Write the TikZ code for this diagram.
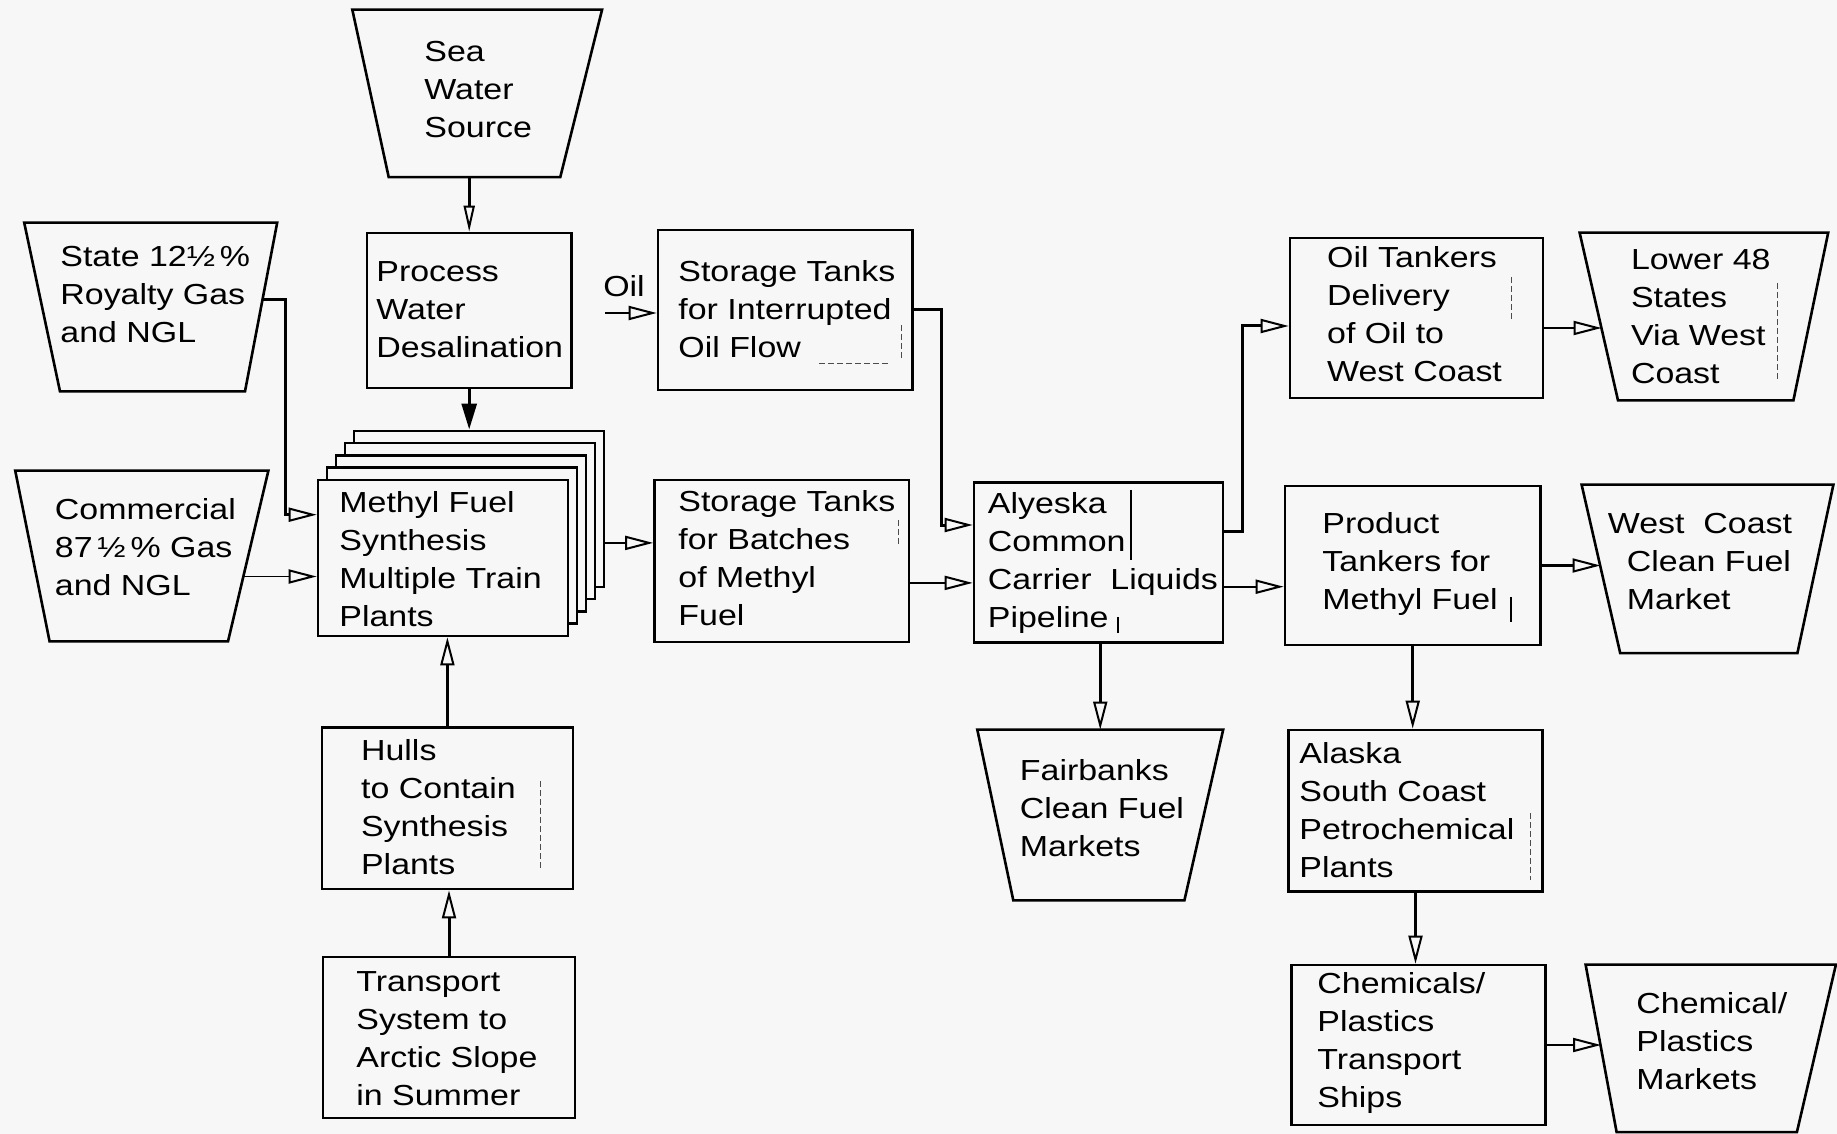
\documentclass[tikz,border=0pt]{standalone}
\usepackage{fontspec}
\setmainfont{Liberation Sans}[FakeStretch=1.17]
\usetikzlibrary{arrows.meta}
\newcommand{\lns}[1]{\begin{tabular}[t]{@{}l@{}}#1\end{tabular}}
\newcommand{\trapz}[3]{\draw[line width=1.3pt, line join=miter] (#1.north west) -- (#1.north east) -- ([xshift=-#3]#1.south east) -- ([xshift=#2]#1.south west) -- cycle;}
\definecolor{bgc}{gray}{0.97}
\begin{document}
\begin{tikzpicture}[x=0.5pt,y=-0.5pt,
  bx/.style={draw, line width=1.3pt, rectangle, inner sep=0pt},
  tb/.style={rectangle, inner sep=0pt},
  tx/.style={anchor=base west, inner sep=0pt, font=\fontsize{14.5}{19}\selectfont},
  thk/.style={line width=1.5pt},
  thn/.style={line width=0.9pt},
  med/.style={line width=1.1pt},
  oa/.style={-{Triangle[open, length=14pt, width=7pt, line width=1pt]}},
  fa/.style={-{Triangle[length=13pt, width=7.5pt]}},
  gd/.style={line width=0.5pt, black!70, dash pattern=on 3pt off 1.5pt}]
\useasboundingbox (0,0) rectangle (1837,1134);
\fill[bgc] (0,0) rectangle (1837,1134);

% trapezoids (sources and markets): bounding nodes + outlines
\node[tb, minimum width=124.5pt, minimum height=83.35pt] (sea) at (477.2,93.35) {};
\node[tb, minimum width=126.1pt, minimum height=84pt] (state) at (150.7,307) {};
\node[tb, minimum width=126.2pt, minimum height=85pt] (comm) at (141.8,556) {};
\node[tb, minimum width=123.9pt, minimum height=83.5pt] (lw) at (1703.9,316.5) {};
\node[tb, minimum width=125.5pt, minimum height=83.85pt] (wc) at (1707.5,568.85) {};
\node[tb, minimum width=122.55pt, minimum height=85pt] (fair) at (1100.25,815) {};
\node[tb, minimum width=124.75pt, minimum height=83.35pt] (cm) at (1710.75,1048.35) {};
\trapz{sea}{18.2pt}{20.9pt}
\trapz{state}{17.9pt}{16.1pt}
\trapz{comm}{17.2pt}{20.2pt}
\trapz{lw}{19.2pt}{17.4pt}
\trapz{wc}{19.3pt}{18pt}
\trapz{fair}{18pt}{19.4pt}
\trapz{cm}{15.5pt}{19.5pt}

% rectangular boxes
\node[bx, minimum width=102.2pt, minimum height=77.5pt] (proc) at (469.2,310.5) {};
\node[bx, minimum width=127.3pt, minimum height=80pt] (so) at (785.3,310) {};
\foreach \k/\nm in {4/m4,3/m3,2/m2,1/m1}
  \node[bx, fill=bgc, minimum width=125pt, minimum height=78pt] (\nm) at (443+9*\k,558-12.3*\k) {};
\node[bx, fill=bgc, minimum width=125pt, minimum height=78pt] (m0) at (443,558) {};
\node[bx, minimum width=127.3pt, minimum height=80.9pt] (sb) at (781.8,560.9) {};
\node[bx, minimum width=124.4pt, minimum height=80pt] (aly) at (1098.4,562.7) {};
\node[bx, minimum width=126.5pt, minimum height=80pt] (oilt) at (1416.5,318) {};
\node[bx, minimum width=127.7pt, minimum height=79.5pt] (prod) at (1412.7,565.5) {};
\node[bx, minimum width=125.4pt, minimum height=80.7pt] (hull) at (447.4,808.4) {};
\node[bx, minimum width=126pt, minimum height=80.5pt] (trans) at (449,1037.5) {};
\node[bx, minimum width=127pt, minimum height=80.9pt] (al) at (1415.5,810.8) {};
\node[bx, minimum width=127pt, minimum height=80pt] (chem) at (1418.5,1045) {};

% texts
\node[tx] (sea-t) at (424,61.7) {\lns{Sea\\Water\\Source}};
\node[tx] (proc-t) at (376,281.7) {\lns{Process\\Water\\Desalination}};
\node[tx] (state-t) at (60,266.7) {\lns{State 12½\,\%\\Royalty Gas\\and NGL}};
\node[tx] (comm-t) at (54.5,519) {\lns{Commercial\\87\,½\,\% Gas\\and NGL}};
\node[tx, anchor=base] (oil) at (624,297) {Oil};
\node[tx] (so-t) at (678,281.7) {\lns{Storage Tanks\\for Interrupted\\Oil Flow}};
\node[tx] (m0-t) at (339,512) {\lns{Methyl Fuel\\Synthesis\\Multiple Train\\Plants}};
\node[tx] (sb-t) at (678,511.7) {\lns{Storage Tanks\\for Batches\\of Methyl\\Fuel}};
\node[tx] (aly-t) at (987.5,513) {\lns{Alyeska\\Common\\Carrier\ \ Liquids\\Pipeline}};
\node[tx] (oilt-t) at (1326.8,268) {\lns{Oil Tankers\\Delivery\\of Oil to\\West Coast}};
\node[tx] (lw-t) at (1630.6,270) {\lns{Lower 48\\States\\Via West\\Coast}};
\node[tx] (prod-t) at (1322,533) {\lns{Product\\Tankers for\\Methyl Fuel}};
\node[tx] (wc-t) at (1607.5,533) {\lns{West\ \ Coast\\\hspace{9.5pt}Clean Fuel\\\hspace{9.5pt}Market}};
\node[tx] (hull-t) at (360.7,760.5) {\lns{Hulls\\to Contain\\Synthesis\\Plants}};
\node[tx] (trans-t) at (356,991.7) {\lns{Transport\\System to\\Arctic Slope\\in Summer}};
\node[tx] (fair-t) at (1019.5,780) {\lns{Fairbanks\\Clean Fuel\\Markets}};
\node[tx] (al-t) at (1299,763) {\lns{Alaska\\South Coast\\Petrochemical\\Plants}};
\node[tx] (chem-t) at (1317,993) {\lns{Chemicals/\\Plastics\\Transport\\Ships}};
\node[tx] (cm-t) at (1636,1013) {\lns{Chemical/\\Plastics\\Markets}};

% ports on slanted trapezoid sides
\coordinate (state-o) at (262,300);
\coordinate (comm-o) at (243,576.5);
\coordinate (lw-i) at (1601.6,328);
\coordinate (wc-i) at (1600.5,565.5);
\coordinate (cm-i) at (1601,1045);

% connectors
\draw[thk, -{Triangle[open, length=13pt, width=5.5pt, line width=1pt]}] (proc.north |- sea.south) -- (proc.north);
\draw[thk, fa] (proc.south) -- (proc.south |- m4.north);
\coordinate (j1) at (285.7,514.7);
\draw[thk, oa] (state-o) -| (j1) -- (j1 -| m0.west);
\draw[thn, oa] (comm-o) -- (comm-o -| m0.west);
\coordinate (oilin) at (605,313);
\draw[thn, oa] (oilin) -- (oilin -| so.west);
\coordinate (p5) at ([yshift=9pt]sb.west);
\draw[thn, oa] (p5 -| m4.east) -- (p5);
\coordinate (j2) at (941.5,525);
\draw[thk, oa] (so.east) -| (j2) -- (j2 -| aly.west);
\coordinate (p8) at ([yshift=-11pt]sb.east);
\draw[thn, oa] (p8) -- (p8 -| aly.west);
\coordinate (p9) at ([yshift=15.5pt]aly.east);
\coordinate (j3) at (1242,326);
\draw[thk, oa] (p9) -| (j3) -- (j3 -| oilt.west);
\coordinate (p10) at ([yshift=-12pt]aly.east);
\draw[thn, oa] (p10) -- (p10 -| prod.west);
\draw[thk, oa] (fair.north |- aly.south) -- (fair.north);
\draw[med, oa] (oilt.east |- lw-i) -- (lw-i);
\draw[med, oa] (prod.east) -- (wc-i);
\draw[thk, oa] (prod.south) -- (prod.south |- al.north);
\draw[thk, oa] (al.south) -- (al.south |- chem.north);
\draw[thn, oa] (chem.east) -- (cm-i);
\draw[thk, oa] (hull.north) -- (hull.north |- m0.south);
\draw[thk, oa] (trans.north) -- (trans.north |- hull.south);

% faint paste-up guide marks
\draw[line width=0.7pt] (1131,490) -- (1131,560);
\draw[line width=0.7pt] (1118,617) -- (1118,633);
\draw[line width=0.6pt] (1511,597) -- (1511,622);
\draw[gd] (540,781) -- (540,868);
\draw[gd] (901,325) -- (901,360);
\draw[gd] (819,363) -- (890,363);
\draw[gd] (898,520) -- (898,547);
\draw[gd] (1511,277) -- (1511,320);
\draw[gd] (1777,283) -- (1777,380);
\draw[gd] (1530.6,813) -- (1530.6,880);
\end{tikzpicture}
\end{document}
